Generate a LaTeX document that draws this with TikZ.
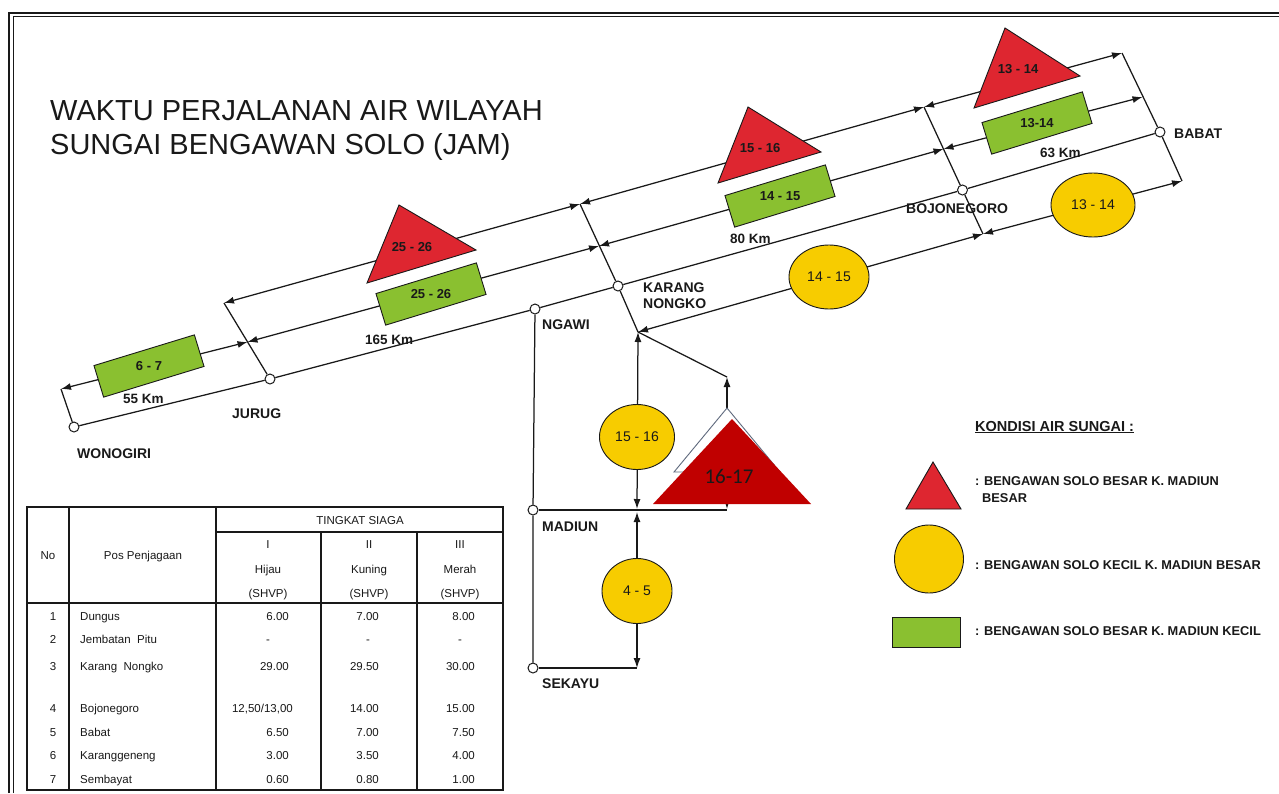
\documentclass[tikz,border=0pt]{standalone}
\usepackage{fontspec}
\setmainfont{Liberation Sans}
\newfontfamily\calibfont{Carlito}
\usetikzlibrary{arrows.meta,shapes.geometric}
\definecolor{rtri}{RGB}{222,38,48}
\definecolor{gboxc}{RGB}{138,192,48}
\definecolor{ycirc}{RGB}{247,204,0}
\definecolor{dred}{RGB}{192,0,0}
\definecolor{ink}{RGB}{25,25,25}
\definecolor{ghostc}{RGB}{95,105,125}
\newcommand\tabrow[6]{%
  \node[tcell] (no#1) at (53,#6) {#1};
  \node[tcell, anchor=west] (pos#1) at (80,#6) {#2};
  \node[tcell, anchor=east] (hi#1) at (289,#6) {#3};
  \node[tcell, anchor=east] (ku#1) at (379,#6) {#4};
  \node[tcell, anchor=east] (me#1) at (475,#6) {#5};}
\tikzset{
  ln/.style={draw=ink, line width=1.25pt},
  dimln/.style={ln, {Latex[length=10pt,width=7pt]}-{Latex[length=10pt,width=7pt]}},
  arrln/.style={ln, -{Latex[length=10pt,width=7pt]}},
  stn/.style={circle, draw=ink, fill=white, line width=1pt, minimum size=10pt, inner sep=0pt},
  slbl/.style={font=\fontsize{14}{16}\selectfont\bfseries, text=ink, anchor=base west, inner sep=0pt},
  kmlbl/.style={font=\fontsize{13.5}{15}\selectfont\bfseries, text=ink, anchor=base west, inner sep=0pt},
  gbx/.style={draw=ink, line width=0.9pt, fill=gboxc, minimum width=105pt, minimum height=33pt, inner sep=0pt, rotate=17},
  shplbl/.style={font=\fontsize{13}{14}\selectfont\bfseries, text=ink, inner sep=0pt},
  yel/.style={ellipse, draw=ink, line width=0.9pt, fill=ycirc, inner sep=0pt},
  yellbl/.style={font=\fontsize{14}{16}\selectfont, text=ink, inner sep=0pt},
  tri/.style={draw=ink, line width=0.9pt, fill=rtri},
  lgd/.style={font=\fontsize{12.8}{15}\selectfont\bfseries, text=ink, anchor=base west, inner sep=0pt},
  tcell/.style={font=\fontsize{11.5}{13}\selectfont, text=ink, inner sep=0pt, text height=8.3pt, text depth=0pt},
  tline/.style={draw=ink, line width=1.3pt}
}
\begin{document}
\begin{tikzpicture}[x=1pt,y=-1pt]
\useasboundingbox (0,0) rectangle (1279,793);
\fill[white] (0,0) rectangle (1279,793);
% frame
\draw[ink, line width=2pt] (8.5,793) -- (8.5,12.5) -- (1279,12.5);
\draw[ink, line width=0.8pt] (13.5,793) -- (13.5,16.5) -- (1279,16.5);
% title
\node[anchor=base west, inner sep=0pt, font=\fontsize{29}{34}\selectfont, text=ink] (title1) at (50,120) {WAKTU PERJALANAN AIR WILAYAH};
\node[anchor=base west, inner sep=0pt, font=\fontsize{29}{34}\selectfont, text=ink] (title2) at (50,154) {SUNGAI BENGAWAN SOLO (JAM)};

% coordinates
\coordinate (wT) at (61,389);
\coordinate (jT) at (224,303);
\coordinate (jM) at (247.5,342);
\coordinate (kT) at (580,204);
\coordinate (kM) at (599,246);
\coordinate (kB) at (638,332);
\coordinate (bT) at (924,107);
\coordinate (bM) at (943.5,149);
\coordinate (bB) at (983,234);
\coordinate (baT) at (1122,53);
\coordinate (baM) at (1142.5,97);
\coordinate (baB) at (1182,181);
\coordinate (mCa) at (637,509);
\coordinate (mCb) at (637,512);
\coordinate (mR) at (727,510);
\coordinate (mRa) at (727,509);
\coordinate (sC) at (637,668);
\coordinate (gT) at (727,377);
\coordinate (gA) at (727,408);
\coordinate (gB) at (727,472);

% stations
\node[stn] (wono) at (74,427) {};
\node[stn] (jurug) at (270,379) {};
\node[stn] (ngawi) at (535,309) {};
\node[stn] (karang) at (618,286) {};
\node[stn] (bojo) at (962.5,190) {};
\node[stn] (babat) at (1160,132) {};
\node[stn] (madiun) at (533,510) {};
\node[stn] (sekayu) at (533,668) {};

% station line and bars
\draw[ln] (wono) -- (jurug) -- (ngawi) -- (karang) -- (bojo) -- (babat);
\draw[ln] (wT) -- (wono);
\draw[ln] (jT) -- (jurug);
\draw[ln] (kT) -- (karang) -- (kB);
\draw[ln] (bT) -- (bojo) -- (bB);
\draw[ln] (baT) -- (babat) -- (baB);

% dimension lines
\draw[dimln] (jT) -- (kT);
\draw[dimln] (kT) -- (bT);
\draw[dimln] (bT) -- (baT);
\draw[dimln] (wT) -- (jM);
\draw[dimln] (jM) -- (kM);
\draw[dimln] (kM) -- (bM);
\draw[dimln] (bM) -- (baM);
\draw[dimln] (kB) -- (bB);
\draw[dimln] (bB) -- (baB);

% Madiun branch
\draw[ln] (ngawi) -- (madiun) -- (sekayu);
\draw[ln] (madiun) -- (mR);
\draw[ln] (sekayu) -- (sC);
\draw[dimln] (kB) -- (mCa);
\draw[dimln] (mCb) -- (sC);
\draw[arrln] (gA) -- (gT);
\draw[ln] (gT) -- (kB);
\draw[arrln] (gB) -- (mRa);

% green boxes
\node[gbx] (g1) at (149,366) {};
\node[shplbl] (g1t) at (g1) {6 - 7};
\node[gbx] (g2) at (431,294) {};
\node[shplbl] (g2t) at (g2) {25 - 26};
\node[gbx] (g3) at (780,196) {};
\node[shplbl] (g3t) at (g3) {14 - 15};
\node[gbx] (g4) at (1037,123) {};
\node[shplbl] (g4t) at (g4) {13-14};

% red triangles
\filldraw[tri] (399,205) -- (476,250) -- (367,283) -- cycle;
\node[shplbl] (t1t) at (412,247) {25 - 26};
\filldraw[tri] (748,107) -- (821,152) -- (718,183) -- cycle;
\node[shplbl] (t2t) at (760,148) {15 - 16};
\filldraw[tri] (1005,28) -- (1080,76) -- (974,108) -- cycle;
\node[shplbl] (t3t) at (1018,69) {13 - 14};

% yellow ellipses
\node[yel, minimum width=80pt, minimum height=64pt] (y1) at (829,277) {};
\node[yellbl] (y1t) at (y1) {14 - 15};
\node[yel, minimum width=84pt, minimum height=64pt] (y2) at (1093,205) {};
\node[yellbl] (y2t) at (y2) {13 - 14};
\node[yel, minimum width=75pt, minimum height=65pt] (y3) at (637,437) {};
\node[yellbl] (y3t) at (y3) {15 - 16};
\node[yel, minimum width=70pt, minimum height=65pt] (y4) at (637,591) {};
\node[yellbl] (y4t) at (y4) {4 - 5};

% ghost triangle and overlay
\filldraw[draw=ghostc, fill=white, line width=0.9pt] (gA) -- (780,472) -- (674,472) -- cycle;
\fill[dred] (732,419) -- (811,504) -- (653,504) -- cycle;
\node[inner sep=0pt, font=\calibfont\fontsize{21}{24}\selectfont, text=black!90] (t4t) at (729,476) {16-17};

% station labels
\node[slbl] (lwono) at (77,458) {WONOGIRI};
\node[slbl] (ljurug) at (232,418) {JURUG};
\node[slbl] (lngawi) at (542,329) {NGAWI};
\node[slbl] (lkar1) at (643,292) {KARANG};
\node[slbl] (lkar2) at (643,308) {NONGKO};
\node[slbl] (lbojo) at (906,213) {BOJONEGORO};
\node[slbl] (lbabat) at (1174,138) {BABAT};
\node[slbl] (lmadiun) at (542,531) {MADIUN};
\node[slbl] (lsekayu) at (542,688) {SEKAYU};

% km labels
\node[kmlbl] (km1) at (123,403) {55 Km};
\node[kmlbl] (km2) at (365,344) {165 Km};
\node[kmlbl] (km3) at (730,243) {80 Km};
\node[kmlbl] (km4) at (1040,157) {63 Km};

% legend
\node[font=\fontsize{14.5}{16}\selectfont\bfseries, text=ink, anchor=base west, inner sep=0pt] (lghead) at (975,431) {\underline{KONDISI AIR SUNGAI :}};
\filldraw[tri] (933,462) -- (961,509) -- (906,509) -- cycle;
\node[lgd] (lg1) at (975,485) {: BENGAWAN SOLO BESAR K. MADIUN};
\node[lgd] (lg1b) at (982,502) {BESAR};
\node[yel, minimum width=69pt, minimum height=68pt] (lgy) at (929,559) {};
\node[lgd] (lg2) at (975,569) {: BENGAWAN SOLO KECIL K. MADIUN BESAR};
\filldraw[draw=ink, line width=0.9pt, fill=gboxc] (892,617) rectangle (960,647);
\node[lgd] (lg3) at (975,635) {: BENGAWAN SOLO BESAR K. MADIUN KECIL};

% table
\draw[tline] (27,507) rectangle (503,790);
\draw[tline] (69,507) -- (69,790);
\draw[tline] (216,507) -- (216,790);
\draw[tline] (321,532) -- (321,790);
\draw[tline] (417,532) -- (417,790);
\draw[tline] (216,532) -- (503,532);
\draw[draw=ink, line width=1.7pt] (27,603) -- (503,603);
\node[tcell] (hNo) at (48,555) {No};
\node[tcell] (hPos) at (143,555) {Pos Penjagaan};
\node[tcell] (hTS) at (360,520) {TINGKAT SIAGA};
\node[tcell] (hI) at (268,544) {I};
\node[tcell] (hII) at (369,544) {II};
\node[tcell] (hIII) at (460,544) {III};
\node[tcell] (hHi) at (268,569) {Hijau};
\node[tcell] (hKu) at (369,569) {Kuning};
\node[tcell] (hMe) at (460,569) {Merah};
\node[tcell] (hS1) at (268,593) {(SHVP)};
\node[tcell] (hS2) at (369,593) {(SHVP)};
\node[tcell] (hS3) at (460,593) {(SHVP)};
\tabrow{1}{Dungus}{6.00}{7.00}{8.00}{616}
\node[tcell] (no2) at (53,639) {2};
\node[tcell, anchor=west] (pos2) at (80,639) {Jembatan\ \ Pitu};
\node[tcell] (hi2) at (268,639) {-};
\node[tcell] (ku2) at (368,639) {-};
\node[tcell] (me2) at (460,639) {-};
\tabrow{3}{Karang\ \ Nongko}{29.00}{29.50}{30.00}{666}
\node[tcell] (no4) at (53,708) {4};
\node[tcell, anchor=west] (pos4) at (80,708) {Bojonegoro};
\node[tcell, anchor=east] (hi4) at (293,708) {12,50/13,00};
\node[tcell, anchor=east] (ku4) at (379,708) {14.00};
\node[tcell, anchor=east] (me4) at (475,708) {15.00};
\tabrow{5}{Babat}{6.50}{7.00}{7.50}{732}
\tabrow{6}{Karanggeneng}{3.00}{3.50}{4.00}{755}
\tabrow{7}{Sembayat}{0.60}{0.80}{1.00}{779}
\end{tikzpicture}
\end{document}
